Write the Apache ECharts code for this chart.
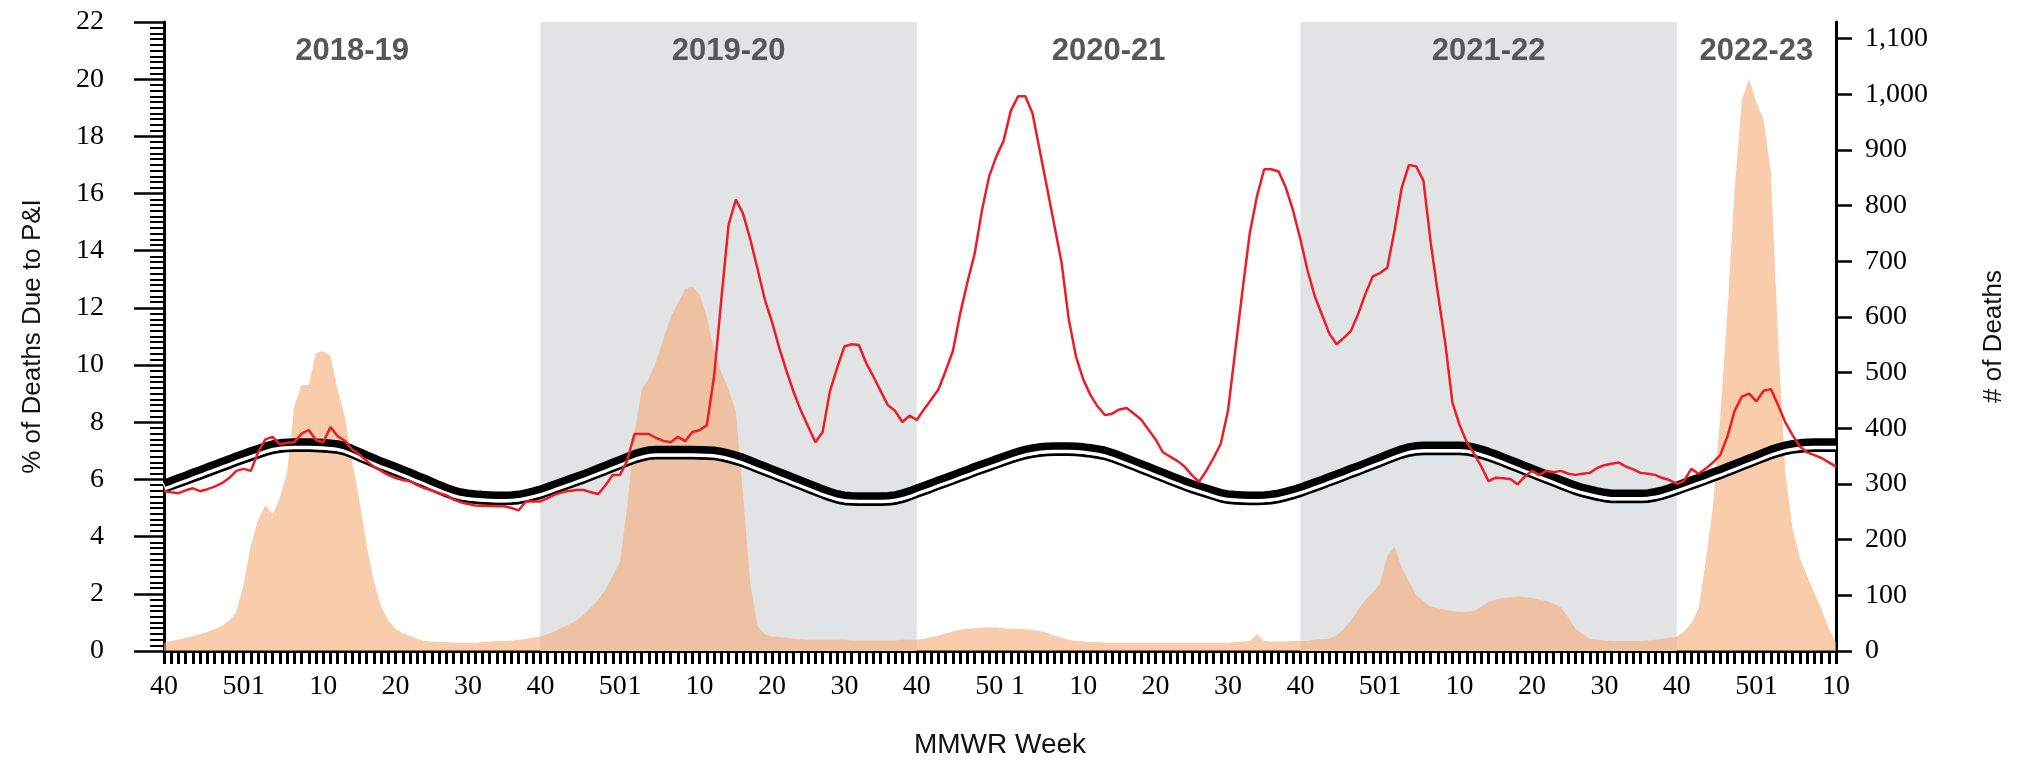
<!DOCTYPE html>
<html>
<head>
<meta charset="utf-8">
<title>P&amp;I mortality</title>
<script src="https://cdn.jsdelivr.net/npm/echarts@6/dist/echarts.min.js"></script>
<style>
  html, body { margin: 0; padding: 0; background: #fff; }
  #chart { width: 2020px; height: 764px; }
</style>
</head>
<body>
<div id="chart"></div>
<script>
// ---------- data ----------
// MMWR years shown: [year, first week, last week]
const yearSpans = [[2018, 40, 52], [2019, 1, 52], [2020, 1, 53], [2021, 1, 52], [2022, 1, 52], [2023, 1, 10]];
const labelWeeks = [40, 50, 1, 10, 20, 30];

const seasonNames = ['2018-19', '2019-20', '2020-21', '2021-22', '2022-23'];
const seasonFrom  = ['2018-40', '2019-40', '2020-40', '2021-40', '2022-40'];
const seasonTo    = ['2019-40', '2020-40', '2021-40', '2022-40', '2023-10'];
const seasonShaded = [false, true, false, true, false];

const deathTicks = [0, 100, 200, 300, 400, 500, 600, 700, 800, 900, 1000, 1100];

// % of deaths due to P&I (red)
const pctPI = [
  5.59,5.55,5.52,5.62,5.69,5.59,5.66,5.75,5.87,6.05,6.30,6.37,6.30,6.94,7.40,7.49,7.23,7.28,7.30,7.60,
  7.73,7.37,7.30,7.83,7.51,7.35,7.05,6.87,6.65,6.44,6.30,6.15,6.05,5.98,5.94,5.80,5.69,5.62,5.52,5.45,
  5.30,5.20,5.14,5.09,5.08,5.07,5.06,5.06,5.00,4.92,5.23,5.23,5.23,5.35,5.47,5.55,5.60,5.63,5.63,5.55,
  5.49,5.80,6.16,6.16,6.66,7.59,7.59,7.59,7.45,7.35,7.30,7.49,7.34,7.66,7.72,7.90,9.60,12.30,14.90,15.79,
  15.30,14.40,13.37,12.30,11.51,10.60,9.80,9.05,8.40,7.85,7.30,7.66,9.08,9.90,10.65,10.73,10.70,10.08,9.60,9.10,
  8.60,8.40,8.01,8.23,8.08,8.45,8.80,9.15,9.80,10.50,11.80,12.90,13.90,15.40,16.60,17.30,17.85,18.90,19.40,19.40,
  18.80,17.50,16.20,14.90,13.60,11.60,10.30,9.50,8.95,8.55,8.25,8.30,8.45,8.50,8.30,8.10,7.75,7.40,6.95,6.80,
  6.65,6.45,6.15,5.92,6.30,6.75,7.25,8.40,10.50,12.60,14.60,15.90,16.85,16.85,16.77,16.20,15.40,14.40,13.30,12.40,
  11.75,11.10,10.73,10.95,11.20,11.80,12.50,13.10,13.22,13.40,14.70,16.20,17.00,16.95,16.45,14.30,12.50,10.80,8.70,7.90,
  7.30,6.90,6.45,5.94,6.06,6.04,6.02,5.83,6.10,6.30,6.15,6.30,6.25,6.30,6.20,6.16,6.20,6.23,6.40,6.50,
  6.55,6.59,6.45,6.35,6.23,6.20,6.16,6.05,5.98,5.85,5.94,6.37,6.20,6.38,6.59,6.85,7.50,8.40,8.90,9.00,
  8.73,9.10,9.16,8.60,8.00,7.55,7.15,6.95,6.85,6.75,6.60,6.45
];

// epidemic threshold (thick black)
const threshold = [
  5.87,5.96,6.06,6.15,6.25,6.34,6.44,6.53,6.63,6.72,6.82,6.91,7.00,7.08,7.17,7.24,7.28,7.30,7.31,7.31,
  7.31,7.30,7.29,7.27,7.24,7.18,7.08,6.97,6.86,6.75,6.64,6.55,6.45,6.35,6.25,6.14,6.04,5.93,5.82,5.72,
  5.63,5.56,5.52,5.49,5.47,5.46,5.45,5.45,5.46,5.48,5.53,5.59,5.66,5.75,5.84,5.93,6.02,6.11,6.20,6.30,
  6.40,6.50,6.60,6.70,6.80,6.90,6.97,7.03,7.05,7.05,7.05,7.05,7.05,7.05,7.04,7.03,7.02,6.98,6.92,6.85,
  6.77,6.67,6.57,6.47,6.37,6.27,6.17,6.07,5.97,5.87,5.77,5.67,5.58,5.50,5.45,5.43,5.42,5.42,5.42,5.42,
  5.43,5.46,5.52,5.60,5.70,5.79,5.88,5.98,6.07,6.16,6.26,6.35,6.45,6.54,6.63,6.72,6.81,6.90,6.98,7.05,
  7.10,7.14,7.16,7.17,7.17,7.17,7.16,7.14,7.11,7.07,7.02,6.94,6.85,6.75,6.65,6.55,6.45,6.35,6.25,6.15,
  6.05,5.95,5.86,5.78,5.70,5.62,5.54,5.49,5.47,5.46,5.45,5.45,5.46,5.48,5.52,5.58,5.65,5.73,5.82,5.91,
  6.00,6.10,6.19,6.29,6.39,6.48,6.58,6.68,6.78,6.88,6.98,7.07,7.14,7.18,7.20,7.20,7.20,7.20,7.20,7.20,
  7.18,7.13,7.06,6.98,6.89,6.79,6.69,6.59,6.49,6.39,6.29,6.19,6.09,5.99,5.89,5.80,5.72,5.66,5.60,5.55,
  5.52,5.52,5.52,5.52,5.52,5.53,5.57,5.63,5.71,5.80,5.89,5.98,6.07,6.16,6.26,6.35,6.45,6.55,6.65,6.75,
  6.85,6.95,7.05,7.13,7.20,7.25,7.28,7.30,7.31,7.31,7.31,7.31
];

// seasonal baseline (thin black)
const baseline = [
  5.59,5.67,5.76,5.85,5.94,6.03,6.13,6.22,6.32,6.41,6.51,6.60,6.69,6.77,6.86,6.93,6.98,7.00,7.01,7.01,
  7.01,7.00,6.99,6.97,6.94,6.88,6.78,6.67,6.56,6.45,6.34,6.25,6.15,6.05,5.95,5.84,5.74,5.63,5.52,5.42,
  5.33,5.26,5.22,5.19,5.17,5.16,5.15,5.15,5.16,5.18,5.23,5.29,5.36,5.45,5.54,5.63,5.72,5.81,5.90,6.00,
  6.10,6.20,6.30,6.40,6.50,6.60,6.67,6.73,6.75,6.75,6.75,6.75,6.75,6.75,6.74,6.73,6.72,6.68,6.62,6.55,
  6.47,6.37,6.27,6.17,6.07,5.97,5.87,5.77,5.67,5.57,5.47,5.37,5.28,5.20,5.15,5.13,5.12,5.12,5.12,5.12,
  5.13,5.16,5.22,5.30,5.40,5.49,5.58,5.68,5.77,5.86,5.96,6.05,6.15,6.24,6.33,6.42,6.51,6.60,6.68,6.75,
  6.80,6.84,6.86,6.87,6.87,6.87,6.86,6.84,6.81,6.77,6.72,6.64,6.55,6.45,6.35,6.25,6.15,6.05,5.95,5.85,
  5.75,5.65,5.56,5.48,5.40,5.32,5.24,5.19,5.17,5.16,5.15,5.15,5.16,5.18,5.22,5.28,5.35,5.43,5.52,5.61,
  5.70,5.80,5.89,5.99,6.09,6.18,6.28,6.38,6.48,6.58,6.68,6.77,6.84,6.88,6.90,6.90,6.90,6.90,6.90,6.90,
  6.88,6.83,6.76,6.68,6.59,6.49,6.39,6.29,6.19,6.09,5.99,5.89,5.79,5.69,5.59,5.50,5.42,5.36,5.30,5.25,
  5.22,5.22,5.22,5.22,5.22,5.23,5.27,5.33,5.41,5.50,5.59,5.68,5.77,5.86,5.96,6.05,6.15,6.25,6.35,6.45,
  6.55,6.65,6.75,6.83,6.90,6.95,6.98,7.00,7.01,7.01,7.01,7.01
];

// # of deaths (orange area, right axis)
const deaths = [
  15,18,20,24,27,30,34,40,45,55,70,120,190,235,262,245,275,320,440,478,
  478,535,539,530,470,420,340,270,190,125,80,55,40,32,27,22,18,17,16,16,
  15,15,15,15,16,17,18,18,19,20,22,24,26,30,35,42,48,55,65,78,
  92,110,135,160,260,390,470,490,520,560,600,625,650,655,640,600,540,500,470,430,
  280,120,45,30,26,25,24,22,21,20,20,20,20,20,20,19,19,19,19,19,
  19,19,20,20,20,22,25,28,32,35,38,40,41,42,42,42,41,40,40,39,
  38,36,33,28,24,20,18,17,16,16,15,15,15,15,15,15,15,15,15,15,
  15,15,15,15,15,15,15,15,16,17,18,30,18,17,17,17,18,18,18,20,
  21,22,28,40,55,75,92,105,121,170,187,150,125,100,90,80,77,74,72,70,
  70,72,80,88,92,95,96,98,97,95,92,90,85,78,60,40,30,22,20,19,
  18,18,18,18,18,19,20,22,24,26,35,50,76,160,260,420,610,830,990,1028,
  985,955,860,560,320,220,168,135,105,75,40,15
];

// ---------- helpers ----------
const weeks = [];
yearSpans.forEach(([y, a, b]) => { for (let w = a; w <= b; w++) weeks.push(y + '-' + w); });
const weekOf = v => +v.split('-')[1];

const SERIF = 'Liberation Serif';
const SANS = 'Liberation Sans';

const seasonAreas = seasonNames.map((name, i) => [
  { name, xAxis: seasonFrom[i], itemStyle: { color: seasonShaded[i] ? '#e2e3e5' : 'rgba(0,0,0,0)' } },
  { xAxis: seasonTo[i] }
]);

// ---------- chart ----------
const chart = echarts.init(document.getElementById('chart'), null, { renderer: 'canvas' });
chart.setOption({
  animation: false,
  backgroundColor: '#fff',
  grid: { left: 164, right: 184, top: 22, bottom: 113, containLabel: false },
  xAxis: {
    type: 'category',
    data: weeks,
    boundaryGap: false,
    name: 'MMWR Week',
    nameLocation: 'middle',
    nameGap: 80,
    nameTextStyle: { fontFamily: SANS, fontSize: 28, color: '#111' },
    axisLine: { lineStyle: { color: '#000', width: 3 } },
    axisTick: { interval: 0, length: 13, lineStyle: { color: '#000', width: 3 } },
    axisLabel: {
      interval: (idx, v) => labelWeeks.includes(weekOf(v)),
      formatter: v => String(weekOf(v)),
      fontFamily: SERIF, fontSize: 28, color: '#000', margin: 22
    },
    splitLine: { show: false }
  },
  yAxis: [{
    type: 'value',
    min: 0, max: 22, interval: 2,
    name: '% of Deaths Due to P&I',
    nameLocation: 'middle',
    nameRotate: 90,
    nameGap: 118,
    nameTextStyle: { fontFamily: SANS, fontSize: 26, color: '#111' },
    axisLine: { show: true, lineStyle: { color: '#000', width: 3 } },
    axisTick: { show: true, length: 30, lineStyle: { color: '#000', width: 2.5 } },
    minorTick: { show: true, splitNumber: 10, length: 14, lineStyle: { color: '#000', width: 2 } },
    axisLabel: { fontFamily: SERIF, fontSize: 28, color: '#000', margin: 60 },
    splitLine: { show: false }
  }, {
    type: 'value',
    min: 0, max: 1130, interval: 100,
    position: 'right',
    name: '# of Deaths',
    nameLocation: 'middle',
    nameRotate: 90,
    nameGap: 145,
    nameTextStyle: { fontFamily: SANS, fontSize: 26, color: '#111' },
    axisLine: { show: true, lineStyle: { color: '#000', width: 3 } },
    axisTick: { show: true, length: 16, customValues: deathTicks, lineStyle: { color: '#000', width: 2.5 } },
    axisLabel: {
      customValues: deathTicks,
      formatter: v => v.toLocaleString('en-US'),
      fontFamily: SERIF, fontSize: 28, color: '#000', margin: 29
    },
    splitLine: { show: false }
  }],
  series: [{
    name: '# of Deaths',
    type: 'line',
    yAxisIndex: 1,
    data: deaths,
    z: 2,
    showSymbol: false,
    symbol: 'none',
    lineStyle: { width: 0 },
    areaStyle: { color: 'rgba(245,170,115,0.6)', opacity: 1 },
    silent: true,
    markArea: {
      silent: true,
      label: {
        show: true,
        position: 'insideTop',
        distance: 14,
        fontFamily: SANS,
        fontWeight: 'bold',
        fontSize: 31,
        color: '#575757'
      },
      data: seasonAreas
    }
  }, {
    name: 'Baseline',
    type: 'line',
    data: baseline,
    z: 3,
    symbol: 'none',
    lineStyle: { color: '#000', width: 3 },
    silent: true
  }, {
    name: 'Threshold',
    type: 'line',
    data: threshold,
    z: 4,
    symbol: 'none',
    lineStyle: { color: '#000', width: 7.5, shadowColor: '#fff', shadowBlur: 0, shadowOffsetY: 3.5 },
    silent: true
  }, {
    name: '% P&I',
    type: 'line',
    data: pctPI,
    z: 5,
    symbol: 'none',
    lineStyle: { color: '#ee1c25', width: 2.5 },
    silent: true
  }]
});
</script>
</body>
</html>
